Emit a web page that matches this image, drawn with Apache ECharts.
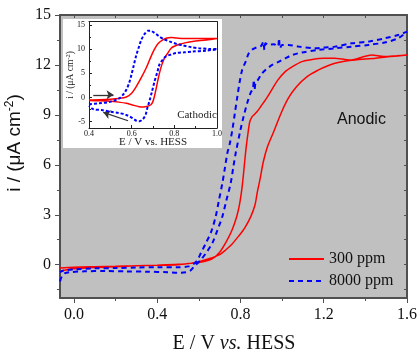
<!DOCTYPE html>
<html>
<head>
<meta charset="utf-8">
<script src="https://cdn.jsdelivr.net/npm/echarts@6/dist/echarts.min.js"></script>
<style>
  html, body { margin: 0; padding: 0; background: #fff; }
  #chart { width: 420px; height: 354px; }
</style>
</head>
<body>
<div id="chart"></div>
<script>
// main plot: E (V vs. HESS) against i (uA cm-2)
const xTicks = [0, 0.4, 0.8, 1.2, 1.6]
const xMinorTicks = [0.2, 0.6, 1.0, 1.4]
const xAllTicks = [0, 0.2, 0.4, 0.6, 0.8, 1.0, 1.2, 1.4, 1.6]
const yTicks = [0, 3, 6, 9, 12, 15]
const yMinorTicks = [-1.5, 1.5, 4.5, 7.5, 10.5, 13.5]
const yAllTicks = [-1.5, 0, 1.5, 3, 4.5, 6, 7.5, 9, 10.5, 12, 13.5, 15]

// 300 ppm, forward then reverse scan
const red300 = [
  [-0.067, -0.42], [-0.04, -0.32], [0.0, -0.25], [0.1, -0.17], [0.2, -0.12], [0.3, -0.07],
  [0.4, -0.03], [0.5, 0.02], [0.56, 0.08], [0.62, 0.25], [0.66, 0.4], [0.7, 0.6], [0.73, 0.9],
  [0.76, 1.25], [0.79, 1.7], [0.82, 2.2], [0.85, 2.9], [0.87, 3.6], [0.88, 4.3], [0.895, 5.2],
  [0.91, 6.2], [0.93, 7.1], [0.96, 8.0], [0.995, 9.1], [1.03, 10.0], [1.07, 10.7], [1.12, 11.3],
  [1.175, 11.7], [1.22, 11.95], [1.254, 12.1], [1.3, 12.22], [1.35, 12.3], [1.45, 12.4],
  [1.52, 12.5], [1.6, 12.6],
  [1.55, 12.55], [1.49, 12.5], [1.43, 12.6], [1.38, 12.45], [1.334, 12.3], [1.29, 12.35],
  [1.254, 12.4], [1.2, 12.4], [1.13, 12.3], [1.095, 12.2], [1.05, 11.9], [1.015, 11.6],
  [0.98, 11.1], [0.95, 10.5], [0.92, 9.9], [0.9, 9.55], [0.88, 9.2], [0.865, 9.0], [0.856, 8.9],
  [0.845, 8.6], [0.835, 7.8], [0.826, 6.9], [0.818, 5.9], [0.81, 4.9], [0.804, 4.3], [0.795, 3.6],
  [0.782, 2.9], [0.76, 2.1], [0.737, 1.5], [0.7, 0.75], [0.664, 0.35], [0.62, 0.18], [0.56, 0.08],
  [0.5, 0.0], [0.4, -0.04], [0.3, -0.06], [0.2, -0.1], [0.1, -0.12], [0.0, -0.15], [-0.067, -0.2]
]

// 8000 ppm, forward then reverse scan
const blue8000 = [
  [-0.067, -1.0], [-0.058, -0.7], [-0.045, -0.52], [-0.02, -0.45], [0.05, -0.4], [0.15, -0.38],
  [0.25, -0.4], [0.35, -0.42], [0.45, -0.45], [0.5, -0.48], [0.54, -0.45], [0.56, -0.35],
  [0.578, -0.1], [0.61, 0.3], [0.64, 0.8], [0.665, 1.3], [0.69, 2.1], [0.713, 2.9], [0.733, 3.9],
  [0.753, 4.9], [0.766, 5.9], [0.777, 6.7], [0.8, 8.1], [0.815, 8.9], [0.832, 9.7], [0.848, 10.3],
  [0.86, 10.6], [0.864, 11.1], [0.868, 10.5], [0.872, 10.9], [0.884, 11.1], [0.904, 11.5],
  [0.93, 11.8], [0.952, 12.0], [0.985, 12.2], [1.015, 12.4], [1.05, 12.6], [1.095, 12.75],
  [1.175, 12.9], [1.254, 13.0], [1.334, 13.1], [1.414, 13.2], [1.493, 13.35], [1.557, 13.6],
  [1.6, 14.0],
  [1.557, 13.8], [1.493, 13.6], [1.414, 13.4], [1.334, 13.3], [1.254, 13.1], [1.2, 13.05],
  [1.159, 13.0], [1.08, 13.1], [1.03, 13.2], [1.0, 13.2], [0.99, 13.0], [0.985, 13.6],
  [0.98, 13.1], [0.96, 13.25], [0.936, 13.2], [0.92, 13.3], [0.915, 12.9], [0.91, 13.4],
  [0.9, 13.15], [0.888, 13.1], [0.86, 12.95], [0.84, 12.7], [0.825, 12.2], [0.808, 11.7],
  [0.795, 10.9], [0.785, 10.1], [0.773, 9.1], [0.761, 8.1], [0.749, 7.3], [0.737, 6.7],
  [0.725, 5.8], [0.713, 4.9], [0.697, 3.9], [0.681, 2.9], [0.66, 2.0], [0.634, 1.3], [0.61, 0.7],
  [0.594, 0.3], [0.575, 0.05], [0.55, -0.1], [0.5, -0.15], [0.4, -0.15], [0.3, -0.17],
  [0.2, -0.2], [0.1, -0.22], [0.0, -0.28], [-0.05, -0.35], [-0.067, -0.45]
]

// inset (cathodic)
const insetXTicks = [0.4, 0.6, 0.8, 1.0]
const insetXMinorTicks = [0.5, 0.7, 0.9]
const insetYTicks = [-5, 0, 5, 10, 15]
const insetYMinorTicks = [-2.5, 2.5, 7.5, 12.5]

const insetRed300 = [
  [0.4, -0.5], [0.45, -0.45], [0.5, -0.35], [0.54, -0.2], [0.575, 0.1], [0.6, 0.9], [0.622, 2.3],
  [0.645, 4.1], [0.668, 6.1], [0.69, 8.4], [0.707, 10.0], [0.725, 11.2], [0.746, 11.9],
  [0.765, 12.3], [0.785, 12.4], [0.81, 12.3], [0.85, 12.2], [0.9, 12.2], [0.95, 12.2], [1.0, 12.2],
  [0.95, 11.9], [0.885, 11.6], [0.85, 11.3], [0.824, 11.0], [0.8, 10.6], [0.785, 10.2],
  [0.768, 9.1], [0.753, 8.1], [0.74, 6.6], [0.73, 5.0], [0.722, 3.4], [0.715, 1.9], [0.707, 0.3],
  [0.699, -0.9], [0.69, -1.5], [0.675, -1.8], [0.655, -1.95], [0.635, -1.9], [0.6, -1.5],
  [0.575, -1.2], [0.54, -0.95], [0.5, -0.75], [0.45, -0.65], [0.4, -0.6]
]

const insetBlue8000 = [
  [0.4, -1.4], [0.448, -1.2], [0.498, -0.9], [0.525, -0.5], [0.544, -0.1], [0.56, 0.6],
  [0.575, 1.6], [0.588, 3.0], [0.599, 4.7], [0.61, 6.7], [0.622, 8.8], [0.635, 10.6],
  [0.645, 11.9], [0.66, 13.1], [0.676, 13.8], [0.69, 13.8], [0.699, 13.6], [0.715, 13.1],
  [0.73, 12.6], [0.755, 12.0], [0.777, 11.6], [0.81, 11.1], [0.839, 10.8], [0.88, 10.4],
  [0.916, 10.2], [0.96, 10.05], [1.0, 10.0],
  [0.95, 9.7], [0.885, 9.5], [0.845, 9.35], [0.808, 9.2], [0.785, 8.9], [0.761, 8.5],
  [0.745, 7.8], [0.73, 6.8], [0.72, 5.2], [0.707, 3.3], [0.695, 1.2], [0.683, -0.8],
  [0.672, -2.4], [0.665, -3.6], [0.652, -4.5], [0.637, -4.9], [0.622, -4.8], [0.605, -4.3],
  [0.575, -3.6], [0.54, -3.2], [0.498, -2.9], [0.46, -2.6], [0.42, -2.4], [0.4, -1.7]
]

// scan direction arrows in the inset, [from, to]
const insetArrows = [
  [[0.42, 0.56], [0.515, 0.56]],
  [[0.583, -4.8], [0.467, -3.05]]
]

const SERIF = 'Liberation Serif'
const SANS = 'Liberation Sans'
const frame = '#505050'
const insetFrame = '#222'

function mkAxis(o) {
  return {
    type: 'value',
    gridIndex: o.grid,
    position: o.pos,
    min: o.min,
    max: o.max,
    z: o.z || 0,
    splitLine: { show: false },
    axisLine: { show: !!o.line, onZero: false, lineStyle: { color: o.color, width: o.lw || 1 } },
    axisTick: {
      show: !!o.ticks,
      customValues: o.ticks,
      inside: !!o.inside,
      length: o.len,
      lineStyle: { color: o.color, width: 1 }
    },
    axisLabel: o.labels
      ? { show: true, customValues: o.labels, margin: o.margin, formatter: o.fmt,
          fontFamily: SERIF, fontSize: o.fs, color: '#111' }
      : { show: false }
  }
}

const mainX = { grid: 0, min: -0.067, max: 1.6, color: frame }
const mainY = { grid: 0, min: -2, max: 15, color: frame }
const inX = { grid: 1, min: 0.4, max: 1.0, color: insetFrame, z: 5 }
const inY = { grid: 1, min: -6.3, max: 15.7, color: insetFrame, z: 5 }
const f1 = (v) => v.toFixed(1)
const f0 = (v) => String(Math.round(v))

const xAxes = [
  mkAxis({ ...mainX, pos: 'bottom', line: true, lw: 2, ticks: xTicks, len: 5, labels: xTicks, margin: 9, fs: 16, fmt: f1 }),
  mkAxis({ ...mainX, pos: 'bottom', ticks: xMinorTicks, len: 3 }),
  mkAxis({ ...mainX, pos: 'top', line: true, lw: 2, ticks: xAllTicks, len: 3, inside: true }),
  mkAxis({ ...inX, pos: 'bottom', line: true, ticks: insetXTicks, len: 3, inside: true, labels: insetXTicks, margin: 2, fs: 8, fmt: f1 }),
  mkAxis({ ...inX, pos: 'bottom', ticks: insetXMinorTicks, len: 2, inside: true }),
  mkAxis({ ...inX, pos: 'top', line: true })
]

const yAxes = [
  mkAxis({ ...mainY, pos: 'left', line: true, lw: 2, ticks: yTicks, len: 5, labels: yTicks, margin: 9, fs: 16, fmt: f0 }),
  mkAxis({ ...mainY, pos: 'left', ticks: yMinorTicks, len: 3 }),
  mkAxis({ ...mainY, pos: 'right', line: true, lw: 2, ticks: yAllTicks, len: 3, inside: true }),
  mkAxis({ ...inY, pos: 'left', line: true, ticks: insetYTicks, len: 3, inside: true, labels: insetYTicks, margin: 4, fs: 8, fmt: f0 }),
  mkAxis({ ...inY, pos: 'left', ticks: insetYMinorTicks, len: 2, inside: true }),
  mkAxis({ ...inY, pos: 'right', line: true })
]

const chart = echarts.init(document.getElementById('chart'))

chart.setOption({
  animation: false,
  backgroundColor: '#fff',
  grid: [
    { left: 60, right: 11, top: 15, bottom: 56, show: true, backgroundColor: '#c0c0c0', borderWidth: 0, containLabel: false },
    { left: 89, right: 203, top: 21.6, bottom: 226, show: false, containLabel: false }
  ],
  xAxis: xAxes,
  yAxis: yAxes,
  legend: {
    data: ['300 ppm', '8000 ppm'],
    orient: 'vertical',
    left: 288,
    top: 251,
    padding: 0,
    itemWidth: 35,
    itemHeight: 14,
    itemGap: 6,
    // only the line in the key, no marker
    itemStyle: { opacity: 0 },
    textStyle: { fontFamily: SERIF, fontSize: 16, color: '#111' }
  },
  series: [
    {
      name: '300 ppm', type: 'line', data: red300, xAxisIndex: 0, yAxisIndex: 0,
      symbol: 'none', smooth: 0.3, z: 2,
      lineStyle: { color: '#ff0000', width: 1.5 }, itemStyle: { color: '#ff0000' }
    },
    {
      name: '8000 ppm', type: 'line', data: blue8000, xAxisIndex: 0, yAxisIndex: 0,
      symbol: 'none', smooth: 0.3, z: 2,
      lineStyle: { color: '#0000ff', width: 2, type: [5, 4] }, itemStyle: { color: '#0000ff' }
    },
    {
      name: 'inset 300', type: 'line', data: insetRed300, xAxisIndex: 3, yAxisIndex: 3,
      symbol: 'none', smooth: 0.3, z: 6,
      lineStyle: { color: '#ff0000', width: 1.5 },
      markLine: {
        silent: true,
        symbol: ['none', 'arrow'],
        symbolSize: 7,
        label: { show: false },
        lineStyle: { color: '#333', type: 'solid', width: 1.3 },
        data: insetArrows.map(([a, b]) => [{ coord: a }, { coord: b }])
      }
    },
    {
      name: 'inset 8000', type: 'line', data: insetBlue8000, xAxisIndex: 3, yAxisIndex: 3,
      symbol: 'none', smooth: 0.3, z: 6,
      lineStyle: { color: '#0000ff', width: 2, type: [3, 2] }
    }
  ],
  graphic: [
    // white panel behind the inset
    { type: 'rect', z: 3, shape: { x: 63, y: 19, width: 159, height: 129 }, style: { fill: '#fff' } },
    {
      type: 'text', z: 10, x: 15, y: 143, rotation: Math.PI / 2,
      style: {
        text: '{a|i / (μA cm}{s|-2}{a|)}', align: 'center', verticalAlign: 'middle',
        rich: {
          a: { fontFamily: SANS, fontSize: 19, fill: '#111', lineHeight: 22 },
          s: { fontFamily: SANS, fontSize: 12, fill: '#111', verticalAlign: 'top', lineHeight: 12 }
        }
      }
    },
    {
      type: 'text', z: 10, x: 234, y: 344,
      style: {
        text: '{a|E / V }{b|vs.}{a| HESS}', align: 'center', verticalAlign: 'middle',
        rich: {
          a: { fontFamily: SERIF, fontSize: 20, fill: '#111' },
          b: { fontFamily: SERIF, fontSize: 20, fontStyle: 'italic', fill: '#111' }
        }
      }
    },
    {
      type: 'text', z: 10, x: 337, y: 120,
      style: { text: 'Anodic', fontFamily: SANS, fontSize: 16, fill: '#111', align: 'left', verticalAlign: 'middle' }
    },
    {
      type: 'text', z: 10, x: 70, y: 75, rotation: Math.PI / 2,
      style: {
        text: '{a|i / (μA cm}{s|-2}{a|)}', align: 'center', verticalAlign: 'middle',
        rich: {
          a: { fontFamily: SERIF, fontSize: 9.5, fill: '#222', lineHeight: 11 },
          s: { fontFamily: SERIF, fontSize: 6.5, fill: '#222', verticalAlign: 'top', lineHeight: 7 }
        }
      }
    },
    {
      type: 'text', z: 10, x: 153, y: 142.5,
      style: { text: 'E / V vs. HESS', fontFamily: SERIF, fontSize: 11, fill: '#222', align: 'center', verticalAlign: 'middle' }
    },
    {
      type: 'text', z: 10, x: 197, y: 115,
      style: { text: 'Cathodic', fontFamily: SERIF, fontSize: 11, fill: '#222', align: 'center', verticalAlign: 'middle' }
    }
  ]
})
</script>
</body>
</html>
